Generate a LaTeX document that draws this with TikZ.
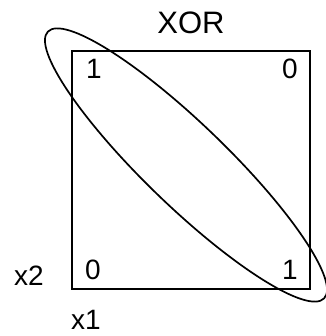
\documentclass[tikz,border=0pt]{standalone}
\usepackage{fontspec}
\setmainfont{Liberation Sans}
\usetikzlibrary{positioning}

\begin{document}
\begin{tikzpicture}[x=1pt, y=1pt, every node/.style={font=\fontsize{28pt}{32pt}\selectfont, inner sep=0pt}]
\useasboundingbox (0,0) rectangle (325,336);
\coordinate (sw) at (72,47);
\coordinate (ne) at (309.5,285);
\draw[line width=2pt] (sw) rectangle (ne);
\node[font=\fontsize{31pt}{36pt}\selectfont] (baslik) at (191,313) {XOR};
\node (ul) at (94,267) {1};
\node (ur) at (290,267) {0};
\node (ll) at (93,66) {0};
\node (lr) at (290,66) {1};
\node (etx2) at (29,60) {x2};
\node (etx1) at (86,16) {x1};
\coordinate (merkez) at (186,171);
\draw[line width=1.7pt, rotate around={-44:(merkez)}] (merkez) ellipse (192 and 41);
\end{tikzpicture}
\end{document}
